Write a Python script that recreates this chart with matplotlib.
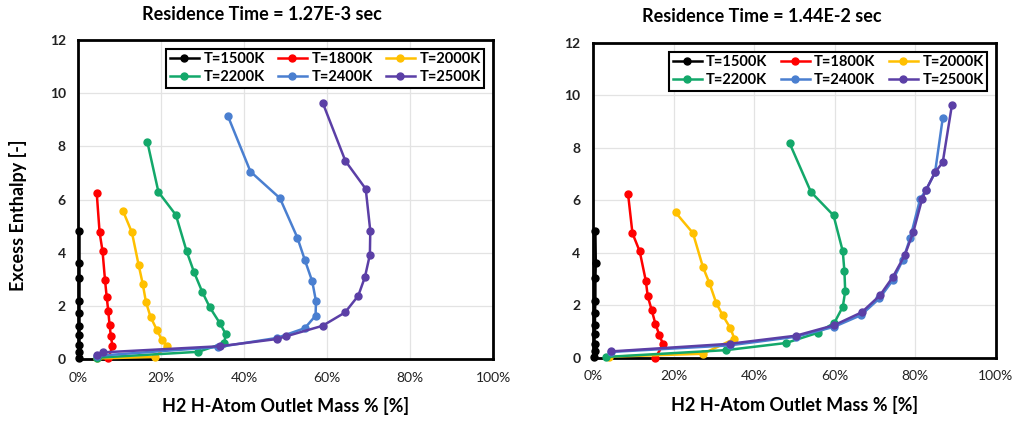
import matplotlib.pyplot as plt
from matplotlib.ticker import FuncFormatter

plt.rcParams['font.family'] = ['Lato', 'DejaVu Sans']

labels = ['T=1500K', 'T=1800K', 'T=2000K', 'T=2200K', 'T=2400K', 'T=2500K']
colors = ['#000000', '#FF0000', '#FFC000', '#13A86A', '#4A7FD0', '#5B3FA6']

# residence time 1.27E-3 sec  (x = H2 mass %, y = excess enthalpy)
left_x_1500 = [0.2, 0.2, 0.2, 0.2, 0.2, 0.2, 0.2, 0.2, 0.2, 0.2]
left_y_1500 = [4.82, 3.61, 3.04, 2.17, 1.73, 1.25, 0.91, 0.54, 0.25, 0.05]
left_x_1800 = [4.4, 5.1, 5.8, 6.4, 6.8, 7.2, 7.5, 7.8, 8.2, 7.2]
left_y_1800 = [6.26, 4.76, 4.07, 2.98, 2.35, 1.79, 1.29, 0.88, 0.48, 0.02]
left_x_2000 = [10.8, 12.9, 14.5, 15.5, 16.3, 17.4, 18.9, 20.1, 21.3, 18.5, 4.5]
left_y_2000 = [5.55, 4.76, 3.55, 2.83, 2.13, 1.58, 1.10, 0.73, 0.48, 0.08, 0.02]
left_x_2200 = [16.6, 19.3, 23.5, 26.1, 27.9, 29.9, 31.7, 34.1, 35.5, 35.2, 28.9, 4.5]
left_y_2200 = [8.18, 6.28, 5.42, 4.05, 3.26, 2.51, 1.94, 1.35, 0.95, 0.60, 0.27, 0.05]
left_x_2400 = [36.0, 41.5, 48.6, 52.8, 54.6, 56.4, 57.3, 57.2, 54.6, 47.8, 33.7, 4.5]
left_y_2400 = [9.16, 7.05, 6.05, 4.57, 3.73, 2.92, 2.17, 1.63, 1.16, 0.79, 0.45, 0.12]
left_x_2500 = [58.9, 64.4, 69.3, 70.4, 70.3, 69.1, 67.5, 64.3, 58.9, 50.0, 47.8, 34.1, 6.0, 4.5]
left_y_2500 = [9.65, 7.45, 6.40, 4.82, 3.92, 3.08, 2.38, 1.75, 1.25, 0.85, 0.75, 0.48, 0.25, 0.15]

# residence time 1.44E-2 sec
right_x_1500 = [0.6, 0.7, 0.6, 0.6, 0.5, 0.5, 0.4, 0.4, 0.4, 0.3]
right_y_1500 = [4.82, 3.61, 3.04, 2.17, 1.73, 1.25, 0.91, 0.54, 0.25, 0.05]
right_x_1800 = [8.7, 9.8, 11.6, 13.1, 13.6, 14.6, 15.5, 16.5, 17.4, 15.5]
right_y_1800 = [6.26, 4.75, 4.06, 2.95, 2.35, 1.81, 1.30, 0.86, 0.52, 0.0]
right_x_2000 = [20.5, 24.8, 27.3, 28.9, 30.6, 32.2, 34.1, 35.1, 27.3, 4.0]
right_y_2000 = [5.54, 4.76, 3.46, 2.85, 2.09, 1.62, 1.14, 0.73, 0.16, 0.05]
right_x_2200 = [48.8, 54.1, 59.7, 62.0, 62.4, 62.6, 62.0, 59.9, 55.8, 47.9, 33.1, 3.3]
right_y_2200 = [8.18, 6.32, 5.43, 4.06, 3.30, 2.54, 1.95, 1.34, 0.96, 0.57, 0.30, 0.04]
right_x_2400 = [86.8, 84.9, 82.6, 81.2, 78.7, 76.9, 74.4, 71.1, 66.5, 59.9, 50.4, 33.9, 4.5]
right_y_2400 = [9.13, 7.07, 6.38, 6.06, 4.55, 3.73, 2.96, 2.27, 1.63, 1.19, 0.81, 0.48, 0.23]
right_x_2500 = [89.1, 86.8, 84.9, 82.6, 81.7, 79.5, 77.4, 74.4, 71.2, 66.7, 59.9, 50.4, 33.9, 4.5]
right_y_2500 = [9.65, 7.45, 7.07, 6.38, 6.06, 4.80, 3.92, 3.08, 2.38, 1.74, 1.25, 0.85, 0.54, 0.25]

left_series = [(left_x_1500, left_y_1500), (left_x_1800, left_y_1800), (left_x_2000, left_y_2000),
               (left_x_2200, left_y_2200), (left_x_2400, left_y_2400), (left_x_2500, left_y_2500)]
right_series = [(right_x_1500, right_y_1500), (right_x_1800, right_y_1800), (right_x_2000, right_y_2000),
                (right_x_2200, right_y_2200), (right_x_2400, right_y_2400), (right_x_2500, right_y_2500)]

fig = plt.figure(figsize=(10.15, 4.23), dpi=100)
ax1 = fig.add_axes([0.0773, 0.1513, 0.4084, 0.754])
ax2 = fig.add_axes([0.5842, 0.1537, 0.397, 0.745])


def draw(ax, series):
    handles = []
    for (x, y), lab, c in zip(series, labels, colors):
        h, = ax.plot(x, y, '-o', color=c, lw=1.8, ms=5, label=lab, clip_on=False, zorder=3)
        handles.append(h)
    ax.set_xlim(0, 100)
    ax.set_ylim(0, 12)
    ax.set_xticks([0, 20, 40, 60, 80, 100])
    ax.set_yticks([0, 2, 4, 6, 8, 10, 12])
    ax.xaxis.set_major_formatter(FuncFormatter(lambda v, p: '%d%%' % v))
    ax.grid(True, color='#e3e3e3', lw=0.9)
    ax.set_axisbelow(True)
    ax.tick_params(length=0, pad=9, labelsize=10, colors='#222222')
    for lab in ax.get_yticklabels():
        lab.set_fontweight('bold')
    for s in ax.spines.values():
        s.set_linewidth(2)
        s.set_color('black')
    # legend fills row by row like the original
    order = [0, 3, 1, 4, 2, 5]
    leg = ax.legend([handles[i] for i in order], [labels[i] for i in order],
                    loc='upper right', ncol=3, fancybox=False, framealpha=1,
                    edgecolor='black', borderpad=0.25, labelspacing=0.25,
                    handlelength=2.0, handletextpad=0.3, columnspacing=0.9,
                    borderaxespad=0.6, prop={'weight': 'bold', 'size': 10.5})
    leg.get_frame().set_linewidth(1.5)
    ax.set_xlabel('H2 H-Atom Outlet Mass % [%]', fontsize=13, fontweight='bold', labelpad=10)


draw(ax1, left_series)
draw(ax2, right_series)
ax1.set_ylabel('Excess Enthalpy [-]', fontsize=13, fontweight='bold')
ax1.yaxis.set_label_coords(-0.125, 0.45)

fig.text(262 / 1015, 1 - 15 / 423, 'Residence Time = 1.27E-3 sec', ha='center', va='center',
         fontsize=13, fontweight='bold')
fig.text(762 / 1015, 1 - 17 / 423, 'Residence Time = 1.44E-2 sec', ha='center', va='center',
         fontsize=13, fontweight='bold')

fig.savefig('out.png', dpi=100)
